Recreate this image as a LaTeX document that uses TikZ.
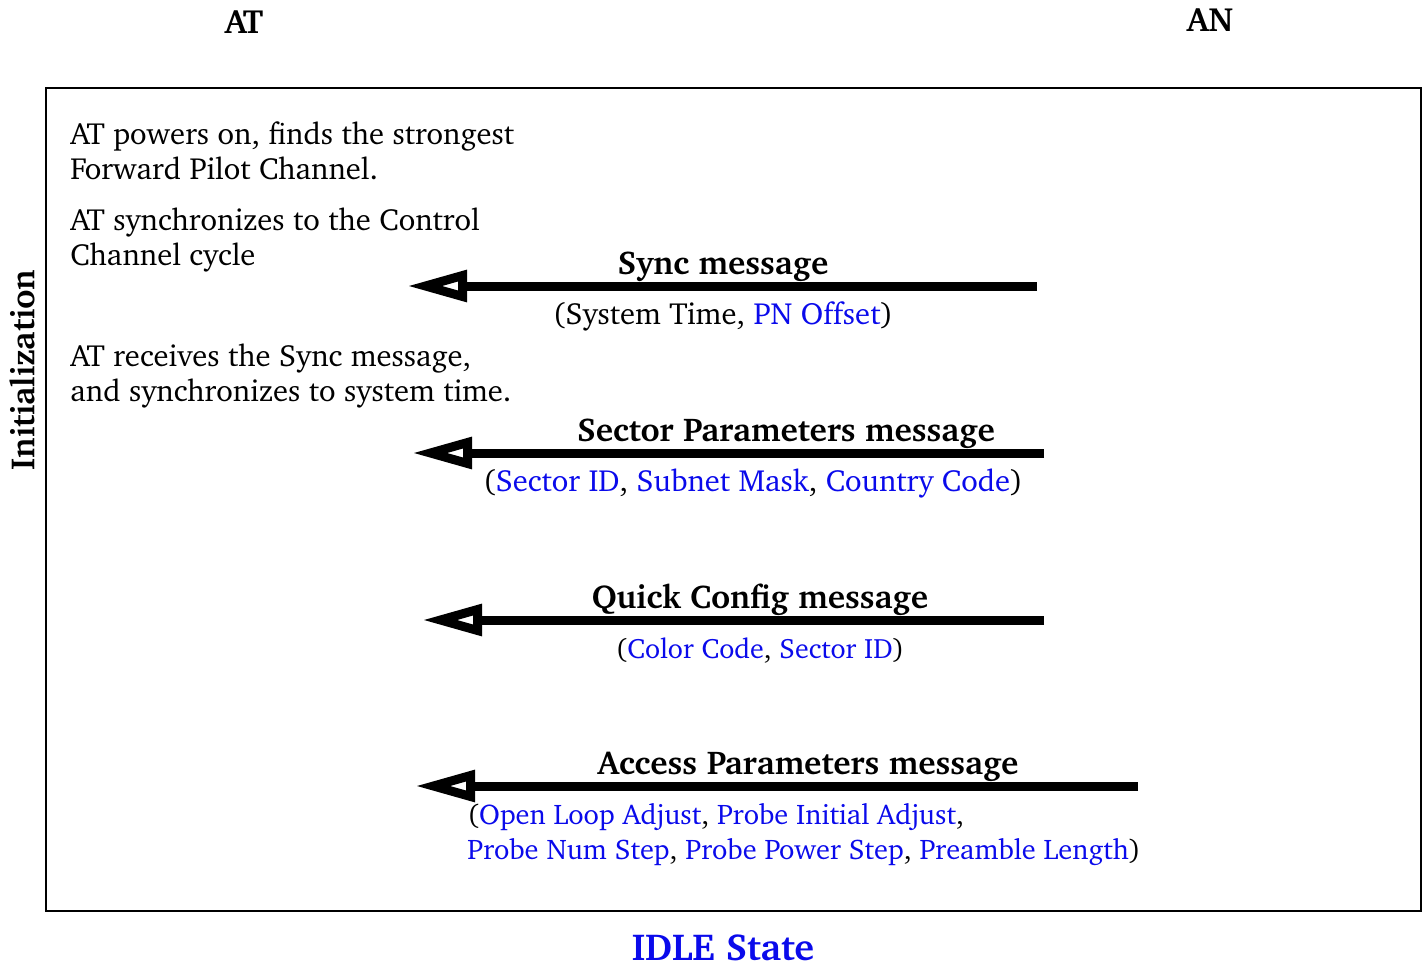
\documentclass[tikz,border=0pt]{standalone}
\usepackage[T1]{fontenc}
\usepackage{charter}
\usepackage{xcolor}
\usepackage{tikz}
\usetikzlibrary{arrows.meta, positioning}
\definecolor{fieldblue}{RGB}{10,10,235}
\newcommand{\fld}[1]{\textcolor{fieldblue}{#1}}

\begin{document}
\begin{tikzpicture}[
    x=0.5pt, y=-0.5pt,
    txt/.style={font=\fontsize{15.3}{17.3}\selectfont, align=left, inner sep=0pt},
    msg/.style={font=\fontsize{16.5}{18}\selectfont\bfseries, inner sep=0pt},
    params/.style={font=\fontsize{15.3}{17.3}\selectfont, inner sep=0pt},
    head/.style={font=\fontsize{16.8}{18}\selectfont\bfseries, inner sep=0pt},
    arrow/.style={-{Triangle[open, length=30pt, width=15pt]}, line width=4.5pt},
    frame/.style={draw, line width=1pt}
]
\useasboundingbox (0,0) rectangle (1424,964);

% Entities
\node[head] (at) at (244,22) {AT};
\node[head] (an) at (1210,20) {AN};
\node[frame, minimum width=687.5pt, minimum height=411.5pt, inner sep=0pt] (box) at (733.5,499.5) {};
\node[head, rotate=90] (init) at (22,370) {Initialization};
\node[head, text=fieldblue, font=\fontsize{18.8}{20}\selectfont\bfseries, anchor=base] (idle) at (723,960.5) {IDLE State};

% AT side notes
\node[txt, anchor=west] (power) at (70,151) {AT powers on, finds the strongest\\Forward Pilot Channel.};
\node[txt, anchor=west] (syncto) at (70,240) {AT synchronizes to the Control\\Channel cycle};
\node[txt, anchor=west] (recv) at (70,376) {AT receives the Sync message,\\and synchronizes to system time.};

% Sync message
\coordinate (s1) at (1037,286);
\coordinate (e1) at (407,286);
\draw[arrow] (s1) -- (e1);
\node[msg] (m1) at (723,267) {Sync message};
\node[params] (p1) at (723,316) {(System Time, \fld{PN Offset})};

% Sector Parameters message
\coordinate (s2) at (1044,453);
\coordinate (e2) at (412,453);
\draw[arrow] (s2) -- (e2);
\node[msg] (m2) at (786,434) {Sector Parameters message};
\node[params] (p2) at (753,483) {(\fld{Sector ID}, \fld{Subnet Mask}, \fld{Country Code})};

% Quick Config message
\coordinate (s3) at (1044,620);
\coordinate (e3) at (422,620);
\draw[arrow] (s3) -- (e3);
\node[msg] (m3) at (760,600) {Quick Config message};
\node[params, font=\fontsize{14}{17}\selectfont] (p3) at (760,651) {(\fld{Color Code}, \fld{Sector ID})};

% Access Parameters message
\coordinate (s4) at (1138,786);
\coordinate (e4) at (415,786);
\draw[arrow] (s4) -- (e4);
\node[msg] (m4) at (808,767) {Access Parameters message};
\node[params, font=\fontsize{14.2}{17.5}\selectfont, align=left, anchor=west] (p4) at (467,834) {(\fld{Open Loop Adjust}, \fld{Probe Initial Adjust},\\\fld{Probe Num Step}, \fld{Probe Power Step}, \fld{Preamble Length})};

\end{tikzpicture}
\end{document}
